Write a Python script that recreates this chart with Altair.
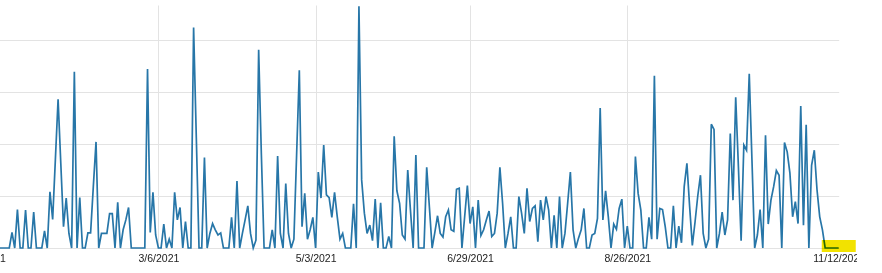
import altair as alt
import pandas as pd

# Daily values (units: one horizontal gridline = 10)
jan = [0, 0, 0, 0, 0, 0, 0, 0, 0, 3.0, 0, 7.4, 0, 0, 7.3, 0, 0, 6.9, 0, 0,
       0, 3.3, 0, 10.8, 5.5, 17, 28.6, 16.3, 4.1, 9.6]                      # Jan 2 - Jan 31
feb = [2.8, 0, 33.9, 0, 9.7, 0, 0, 2.9, 2.9, 11.8, 20.4, 0, 2.8, 2.8, 2.8,
       6.6, 6.6, 0, 8.8, 0, 3.5, 5.4, 7.8, 0, 0, 0, 0, 0]
mar = [0, 34.4, 3.0, 10.7, 2.5, 0, 0, 4.6, 0, 1.7, 0, 10.7, 5.4, 7.8, 0, 5.1,
       0, 0, 42.4, 21.2, 0, 0, 17.4, 0, 2.8, 4.7, 3.5, 2.5, 2.9, 0, 0]
apr = [0, 5.9, 0, 12.9, 0, 2.8, 5.4, 8.1, 2.8, 0, 1.5, 38.1, 18, 0, 0, 0, 3.5,
       0, 17.7, 2.8, 0, 12.4, 2.8, 0, 1.7, 17.9, 34.2, 4.1, 10.5, 1.7]
may = [3.5, 5.9, 0, 14.6, 9.6, 19.8, 10.2, 9.7, 5.9, 10.7, 6, 1.7, 2.8, 0, 0,
       0, 8.5, 0, 46.5, 13.1, 6.7, 2.8, 4.4, 1.4, 9.4, 0, 8.7, 0, 0, 2.2, 0]
jun = [21.5, 11, 8.6, 2.5, 1.7, 15, 7.3, 0, 17.9, 0, 0, 0, 15.5, 7.8, 0, 3,
       6.2, 2.8, 2.1, 6.0, 7.3, 3.5, 3.2, 11.3, 11.5, 0, 6, 12, 4.7, 7.9]
jul = [0, 9.2, 2.4, 3.5, 5.4, 7.1, 2.2, 2.8, 6.7, 15.5, 8.6, 0, 2.8, 6.0, 0, 0,
       9.9, 6.7, 2.8, 11.5, 5.1, 7.6, 8.1, 1.2, 9.2, 5.4, 9.9, 7.3, 0, 6.3, 0]
aug = [9.9, 0, 2.8, 8.6, 14.6, 3.5, 0, 1.9, 3.5, 7.6, 0, 0, 2.5, 2.8, 5.7, 26.9,
       5.4, 11, 6, 0, 4.6, 3.6, 7.6, 9.4, 0, 4.2, 0, 0, 17.6, 10.5, 7.3]
sep = [0, 0, 5.9, 1.7, 33.1, 1.7, 7.6, 7.4, 4.1, 0, 0, 8.1, 0, 4.2, 1, 11.8,
       16.3, 8, 0.5, 5, 10, 14, 2.8, 0, 1.7, 23.8, 22.8, 0, 2.8, 6.9]
octo = [2.5, 5.4, 22, 9.2, 29, 15.6, 1.4, 19.8, 18.8, 33.5, 16.9, 0, 2.5, 7.4,
        0, 21.7, 4.6, 9.2, 11.8, 14.9, 14, 0, 20.3, 18.5, 14.4, 6.0, 8.9, 4.7,
        27.3, 4.4, 23.7]
nov = [0, 15.9, 18.8, 11.2, 6, 3.5, 0, 0, 0, 0, 0, 0]                        # Nov 1 - Nov 12

values = jan + feb + mar + apr + may + jun + jul + aug + sep + octo + nov
dates = pd.date_range("2021-01-02", "2021-11-12", freq="D").strftime("%Y-%m-%d")
df = pd.DataFrame({"date": list(dates), "value": values})

tick_dates = [(2021, 1, 1), (2021, 3, 6), (2021, 5, 3), (2021, 6, 29),
              (2021, 8, 26), (2021, 11, 12)]
ticks = [alt.DateTime(year=y, month=m, date=d, utc=True) for y, m, d in tick_dates]

# highlighter mark near the end of the series
hl = pd.DataFrame({"start": ["2021-11-05T18:00:00Z"], "end": ["2021-11-18T07:00:00Z"],
                   "low": [-0.77], "high": [1.55]})

xscale = alt.Scale(type="utc", domain=[ticks[0], ticks[-1]], range=[-15.1, 838.7])
yscale = alt.Scale(domain=[0, 46.73], nice=False, zero=True)

grid_col = "#e3e3e3"
last_ms = 1636600000000

line = alt.Chart(df).mark_line(color="#2776a8", strokeWidth=1.7).encode(
    x=alt.X("date:T", scale=xscale,
            axis=alt.Axis(values=ticks, title=None, ticks=False, tickSize=0, domain=False,
                          grid=True, gridColor=grid_col,
                          gridOpacity={"condition": {"test": f"datum.value > {last_ms}", "value": 0}, "value": 1},
                          labelExpr="utcFormat(datum.value, '%-m/%-d/%Y')",
                          labelFlush=False, labelOverlap=False, labelPadding=5,
                          labelFont="Arial, Liberation Sans", labelFontSize=10.5,
                          labelColor="#222222")),
    y=alt.Y("value:Q", scale=yscale,
            axis=alt.Axis(values=[0, 10, 20, 30, 40], title=None, labels=False, ticks=False,
                          domain=False, grid=True, gridColor=grid_col)),
)

mark = alt.Chart(hl).mark_rect(color="#f2e200", blend="multiply").encode(
    x=alt.X("start:T", scale=xscale),
    x2="end:T",
    y=alt.Y("low:Q", scale=yscale),
    y2="high:Q",
)

chart = alt.layer(line, mark).properties(
    width=839, height=243,
    autosize="none",
    padding={"left": 0, "top": 5, "right": 18, "bottom": 25},
    background="white",
).configure_view(stroke=None)

chart.save("out.html", embed_options={"renderer": "svg", "actions": False})
